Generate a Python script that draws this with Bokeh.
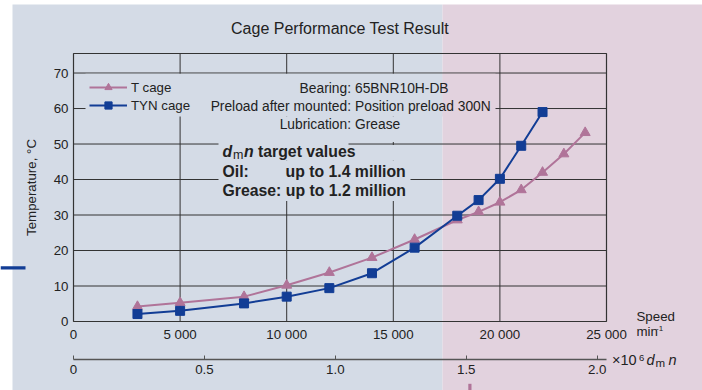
from bokeh.plotting import figure
from bokeh.models import (Range1d, LinearAxis, FixedTicker, Legend, LegendItem,
                          Label)
from bokeh.embed import file_html
from bokeh.resources import INLINE

# ---------------- data ----------------
speed_t = [3000, 5000, 8000, 10000, 12000, 14000, 16000, 18000, 19000,
           20000, 21000, 22000, 23000, 24000]
temp_t = [4.2, 5.3, 7.0, 10.2, 13.8, 18.0, 23.1, 28.6, 30.9,
          33.6, 37.1, 42.0, 47.2, 53.2]
speed_tyn = [3000, 5000, 8000, 10000, 12000, 14000, 16000, 18000, 19000,
             20000, 21000, 22000]
temp_tyn = [2.1, 3.0, 5.1, 7.0, 9.4, 13.6, 20.8, 29.8, 34.2,
            40.2, 49.5, 59.0]

x_ticks = [0, 5000, 10000, 15000, 20000, 25000]
x_tick_labels = ["0", "5 000", "10 000", "15 000", "20 000", "25 000"]
y_ticks = [0, 10, 20, 30, 40, 50, 60, 70]
dmn_ticks = [0, 0.5, 1.0, 1.5, 2.0]
dmn_tick_labels = ["0", "0.5", "1.0", "1.5", "2.0"]

series_names = ["T cage", "TYN cage"]
bearing_keys = ["Bearing:", "Preload after mounted:", "Lubrication:"]
bearing_vals = ["65BNR10H-DB", "Position preload 300N", "Grease"]

# ---------------- layout ----------------
W, H = 702, 390
# chart box in pixels
BL, BR, BT, BB = 73, 606, 53, 321
X0, X1 = 0, 25000
Y0, Y1 = 0, 75.5
DMN_MAX = 2.0355            # x 10^6 dmn at 25 000 min-1
K_DMN = DMN_MAX / X1


def X(px):
    return X0 + (px - BL) * (X1 - X0) / (BR - BL)


def Y(py):
    return Y0 + (BB - py) * (Y1 - Y0) / (BB - BT)


BLUE_BG = "#d4dbe6"
PINK_BG = "#e2d2de"
T_COL = "#b07499"
TYN_COL = "#123d95"
GRID = "#333333"
TXT = "#222222"
FONT = "Liberation Sans"

p = figure(width=W, height=H,
           x_range=Range1d(X(0), X(W)), y_range=Range1d(Y(H), Y(0)),
           output_backend="svg", toolbar_location=None,
           min_border=0, border_fill_color="white",
           background_fill_color="white", outline_line_color=None)
if p.title is not None:
    p.title.visible = False
p.extra_x_ranges = {"dmn": Range1d(X(0) * K_DMN, X(W) * K_DMN)}
p.xgrid.visible = False
p.ygrid.visible = False

# background panels
p.quad(left=[X(12), X(442)], right=[X(442), X(W)], top=[Y(4), Y(4)],
       bottom=[Y(H), Y(H)], fill_color=[BLUE_BG, PINK_BG], line_color=None)

# grid lines inside the chart box
gx = x_ticks[1:-1]
gy = y_ticks[1:]
p.segment(x0=gx, y0=[Y0] * len(gx), x1=gx, y1=[Y1] * len(gx),
          line_color=GRID, line_width=1)
p.segment(x0=[X0] * len(gy), y0=gy, x1=[X1] * len(gy), y1=gy,
          line_color=GRID, line_width=1)

# masks behind the text blocks (hide grid lines there)
m_l = [X(85), X(442), X(200), X(218), X(348), X(218)]
m_r = [X(442), X(495), X(420), X(348), X(410), X(410)]
m_t = [Y(73.3), Y(73.3), Y(116), Y(141.5), Y(144.4), Y(160)]
m_b = [Y(116), Y(116), Y(141.5), Y(160), Y(160), Y(200.5)]
m_c = [BLUE_BG, PINK_BG, BLUE_BG, BLUE_BG, BLUE_BG, BLUE_BG]
p.quad(left=m_l, right=m_r, top=m_t, bottom=m_b, fill_color=m_c, line_color=None)

# chart box
p.quad(left=[X0], right=[X1], bottom=[Y0], top=[Y1], fill_alpha=0,
       line_color=GRID, line_width=1.2)

# x axis (speed)
xa = p.xaxis[0]
xa.fixed_location = Y0
xa.bounds = (X0, X1)
xa.ticker = FixedTicker(ticks=x_ticks)
xa.major_label_overrides = {t: l for t, l in zip(x_ticks, x_tick_labels)}
xa.axis_line_color = None
xa.major_tick_out = 0
xa.major_tick_in = 0
xa.minor_tick_line_color = None
xa.major_label_text_font = FONT
xa.major_label_text_font_size = "13.3px"
xa.major_label_text_color = TXT
xa.major_label_standoff = 5

# y axis
ya = p.yaxis[0]
ya.fixed_location = X0
ya.bounds = (Y0, Y1)
ya.ticker = FixedTicker(ticks=y_ticks)
ya.axis_line_color = None
ya.major_tick_out = 0
ya.major_tick_in = 0
ya.minor_tick_line_color = None
ya.major_label_text_font = FONT
ya.major_label_text_font_size = "13.3px"
ya.major_label_text_color = TXT
ya.major_label_standoff = 5
ya.axis_label = "Temperature, \u00b0C"
ya.axis_label_text_font = FONT
ya.axis_label_text_font_style = "normal"
ya.axis_label_text_font_size = "13.3px"
ya.axis_label_text_color = TXT
ya.axis_label_standoff = 12

# dmn axis
da = LinearAxis(x_range_name="dmn", fixed_location=Y(359.3),
                bounds=(0, DMN_MAX), ticker=FixedTicker(ticks=dmn_ticks),
                major_label_overrides={t: l for t, l in zip(dmn_ticks, dmn_tick_labels)},
                axis_line_color="#555555", axis_line_width=1.3,
                major_tick_in=4, major_tick_out=0,
                major_tick_line_color="#555555", minor_tick_line_color=None,
                major_label_standoff=5, major_label_text_font=FONT,
                major_label_text_font_size="13.3px", major_label_text_color=TXT)
p.add_layout(da, "below")

# data
r_t_line = p.line(speed_t, temp_t, line_color=T_COL, line_width=2)
r_t_pts = p.scatter(speed_t, temp_t, marker="triangle", size=10,
                    fill_color=T_COL, line_color=T_COL)
r_tyn_line = p.line(speed_tyn, temp_tyn, line_color=TYN_COL, line_width=2)
r_tyn_pts = p.scatter(speed_tyn, temp_tyn, marker="square", size=9,
                      fill_color=TYN_COL, line_color=TYN_COL)

legend = Legend(items=[LegendItem(label=series_names[0], renderers=[r_t_line, r_t_pts]),
                       LegendItem(label=series_names[1], renderers=[r_tyn_line, r_tyn_pts])],
                location=(89, H - 114), orientation="vertical", padding=0, margin=0,
                spacing=0, glyph_width=38, glyph_height=18, label_height=18,
                label_standoff=4, border_line_color=None, background_fill_alpha=0,
                label_text_font=FONT, label_text_font_size="13.3px",
                label_text_color=TXT)
p.add_layout(legend)


def lab(text, px, py, size, style="normal", align="left", color=TXT):
    # py is the vertical centre of the text in pixels
    p.add_layout(Label(x=X(px), y=Y(py), text=text, text_font=FONT,
                       text_font_size=f"{size}px", text_font_style=style,
                       text_align=align, text_baseline="middle",
                       text_color=color))


# title
lab("Cage Performance Test Result", (BL + BR) / 2, 27.8, 16, align="center")

# bearing info
for i, (k, v) in enumerate(zip(bearing_keys, bearing_vals)):
    lab(k, 350.5, 87.5 + 18 * i, 13.8, align="right")
    lab(v, 354.5, 87.5 + 18 * i, 13.8)

# dmn target values box
lab("d", 222, 151.3, 15.8, style="bold italic")
lab("m", 232.5, 154, 12.5)
lab("n", 243.5, 151.3, 15.8, style="bold italic")
lab("target values", 257.5, 151.3, 15.8, style="bold")
lab("Oil:", 222, 170.6, 15.8, style="bold")
lab("up to 1.4 million", 285, 170.6, 15.8, style="bold")
lab("Grease: up to 1.2 million", 222, 190, 15.8, style="bold")

# axis captions on the right
lab("Speed", 636, 316, 13.3)
lab("min", 636, 331, 13.3)
lab("-1", 655.5, 328, 8)
lab("\u00d710", 611.5, 359.2, 14.5)
lab("6", 638.5, 357, 9.5)
lab("d", 646, 359.2, 14.5, style="italic")
lab("m", 655, 362.4, 11.5)
lab("n", 668, 359.2, 14.5, style="italic")

# small stray marks visible at the picture's edges
p.quad(left=[X(0), X(467.8)], right=[X(25), X(471)], top=[Y(265.7), Y(383.3)],
       bottom=[Y(269), Y(H)], fill_color=[TYN_COL, T_COL], line_color=None)

open("out.html", "w").write(file_html(p, INLINE))
